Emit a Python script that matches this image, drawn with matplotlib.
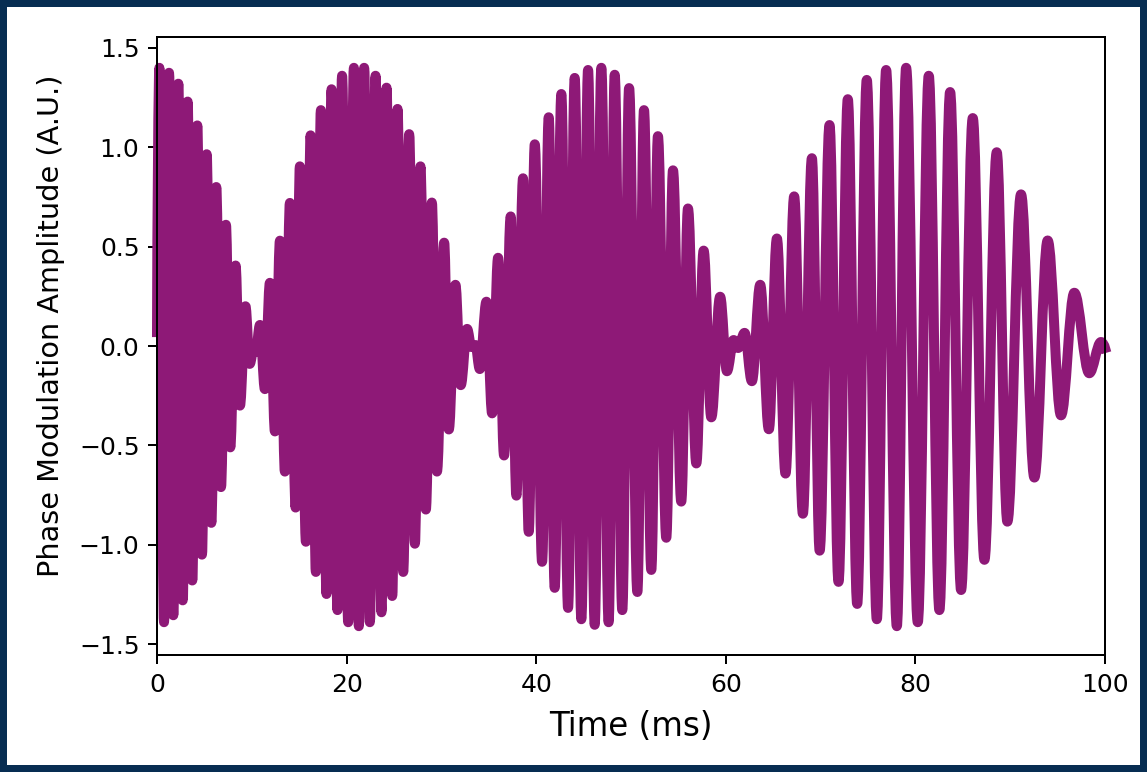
import matplotlib
matplotlib.use('Agg')
import matplotlib.pyplot as plt
from matplotlib.path import Path
from matplotlib.patches import PathPatch, Rectangle

# Extrema of the waveform (time in ms, amplitude in A.U.)
time_ms = [0.00, 0.25, 0.74, 1.27, 1.72, 2.25, 2.71, 3.23, 3.72, 4.25, 4.74, 5.24, 5.73,
           6.25, 6.75, 7.27, 7.73, 8.29, 8.75, 9.33, 9.78, 10.20, 10.42, 10.86, 11.38,
           11.91, 12.44, 12.97, 13.49, 14.02, 14.62, 15.07, 15.71, 16.20, 16.76, 17.29,
           17.88, 18.41, 19.04, 19.52, 20.17, 20.77, 21.29, 21.85, 22.45, 23.05, 23.68,
           24.21, 24.81, 25.37, 25.97, 26.60, 27.20, 27.79, 28.36, 28.99, 29.53, 30.29,
           30.78, 31.48, 32.04, 32.71, 33.17, 33.59, 34.05, 34.75, 35.35, 35.98, 36.61,
           37.31, 37.91, 38.61, 39.21, 39.85, 40.62, 41.32, 41.95, 42.65, 43.36, 44.06,
           44.76, 45.47, 46.17, 46.87, 47.64, 48.28, 49.08, 49.80, 50.67, 51.37, 52.14,
           52.84, 53.72, 54.43, 55.30, 56.01, 56.89, 57.66, 58.47, 59.40, 60.12, 60.82,
           61.30, 61.98, 62.75, 63.63, 64.54, 65.39, 66.30, 67.21, 68.13, 69.08, 69.90,
           70.94, 71.89, 72.87, 73.86, 74.87, 75.93, 76.91, 78.04, 79.02, 80.25, 81.41,
           82.53, 83.66, 84.82, 86.05, 87.28, 88.58, 89.70, 91.14, 92.55, 93.95, 95.36,
           96.76, 98.34, 99.58, 100.00]
amplitude = [0.07, 1.40, -1.39, 1.375, -1.355, 1.32, -1.28, 1.23, -1.18, 1.11, -1.05, 0.965,
             -0.89, 0.80, -0.71, 0.61, -0.51, 0.405, -0.30, 0.20, -0.09, -0.01, -0.03, 0.106,
             -0.217, 0.318, -0.43, 0.53, -0.632, 0.72, -0.813, 0.904, -0.985, 1.06, -1.137,
             1.187, -1.248, 1.292, -1.329, 1.36, -1.39, 1.40, -1.41, 1.40, -1.39, 1.36, -1.34,
             1.30, -1.258, 1.193, -1.137, 1.066, -0.995, 0.904, -0.823, 0.722, -0.632, 0.52,
             -0.42, 0.308, -0.197, 0.086, -0.005, 0.005, -0.116, 0.223, -0.339, 0.444, -0.551,
             0.652, -0.753, 0.844, -0.935, 1.015, -1.086, 1.151, -1.217, 1.268, -1.318, 1.349,
             -1.375, 1.389, -1.403, 1.40, -1.39, 1.365, -1.329, 1.298, -1.238, 1.187, -1.127,
             1.056, -0.965, 0.884, -0.783, 0.692, -0.591, 0.48, -0.359, 0.248, -0.127, 0.03,
             -0.01, 0.066, -0.177, 0.308, -0.419, 0.541, -0.642, 0.753, -0.844, 0.945, -1.03,
             1.112, -1.187, 1.242, -1.298, 1.339, -1.375, 1.389, -1.41, 1.40, -1.39, 1.36,
             -1.329, 1.278, -1.228, 1.147, -1.076, 0.975, -0.884, 0.763, -0.662, 0.531, -0.349,
             0.268, -0.137, 0.02, -0.01]

x_ticks = [0, 20, 40, 60, 80, 100]
y_ticks = [-1.5, -1.0, -0.5, 0.0, 0.5, 1.0, 1.5]

W, H, DPI = 1147, 772, 180
LINE_COLOR = '#8E1977'

fig = plt.figure(figsize=(W / DPI, H / DPI), dpi=DPI, facecolor='#072d52')
fig.patches.append(Rectangle((7 / W, 7 / H), 1133 / W, 758 / H, transform=fig.transFigure,
                             facecolor='white', edgecolor='none', zorder=-10))
ax = fig.add_axes([157 / W, (H - 655) / H, 948 / W, 618 / H])

# smooth curve through the extrema (horizontal tangent at each extremum)
K = 0.3634
verts = [(time_ms[0], amplitude[0])]
codes = [Path.MOVETO]
for i in range(len(time_ms) - 1):
    t0, v0 = time_ms[i], amplitude[i]
    t1, v1 = time_ms[i + 1], amplitude[i + 1]
    d = t1 - t0
    if i == 0:
        c1 = (t0 + 0.15 * d, v0 + 0.45 * (v1 - v0))
    else:
        c1 = (t0 + K * d, v0)
    if i == len(time_ms) - 2:
        c2 = (t1 - 0.15 * d, v1 - 0.45 * (v1 - v0))
    else:
        c2 = (t1 - K * d, v1)
    verts += [c1, c2, (t1, v1)]
    codes += [Path.CURVE4] * 3
wave = PathPatch(Path(verts, codes), fill=False, edgecolor=LINE_COLOR, linewidth=4,
                 capstyle='projecting', joinstyle='round', clip_on=False, zorder=2)
ax.add_patch(wave)

ax.set_xlim(0, 100)
ax.set_ylim(-1.555, 1.555)
ax.set_xticks(x_ticks)
ax.set_yticks(y_ticks)
ax.tick_params(labelsize=10)
ax.set_xlabel('Time (ms)', fontsize=13, labelpad=5.2)
ax.set_ylabel('Phase Modulation Amplitude (A.U.)', fontsize=11.5)
ax.yaxis.set_label_coords(-0.097, 0.532)

fig.savefig('out.png', dpi=DPI, facecolor=fig.get_facecolor())
